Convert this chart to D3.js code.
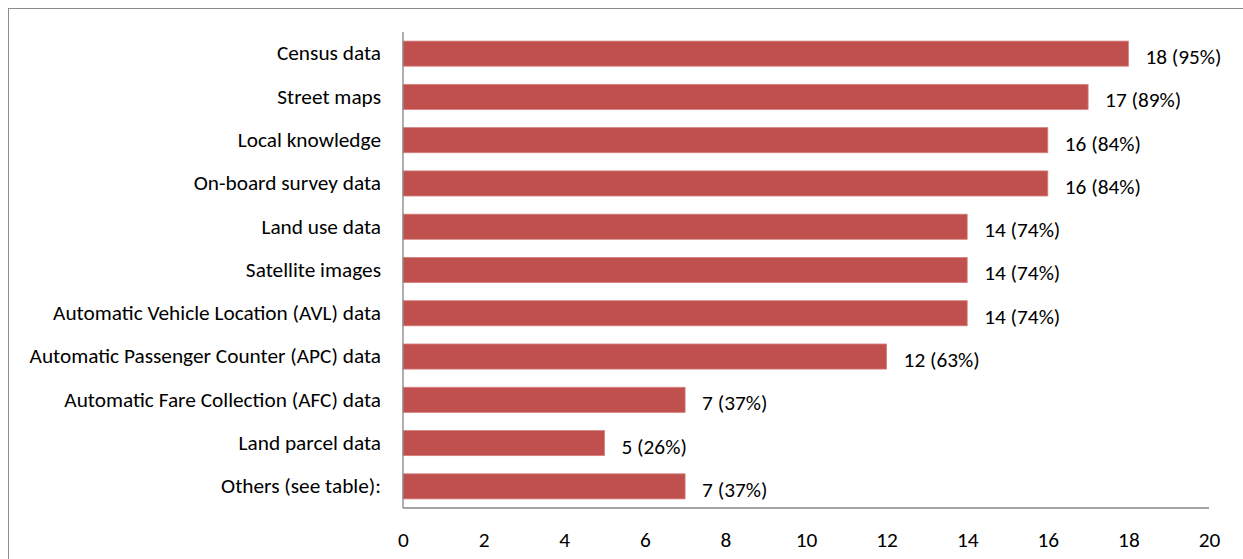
<!DOCTYPE html>
<html>
<head>
<meta charset="utf-8">
<script src="https://cdn.jsdelivr.net/npm/d3@7"></script>
<style>
  html, body { margin: 0; padding: 0; background: #fff; }
  svg { display: block; }
  text { font-family: Carlito, Calibri, Lato, "Open Sans", sans-serif; fill: #000; }
</style>
</head>
<body>
<svg id="chart" width="1243" height="559"></svg>
<script>
// Data sources used, count of agencies (share of respondents)
const categories = [
  "Census data",
  "Street maps",
  "Local knowledge",
  "On-board survey data",
  "Land use data",
  "Satellite images",
  "Automatic Vehicle Location (AVL) data",
  "Automatic Passenger Counter (APC) data",
  "Automatic Fare Collection (AFC) data",
  "Land parcel data",
  "Others (see table):"
];
const counts = [18, 17, 16, 16, 14, 14, 14, 12, 7, 5, 7];
const percents = [95, 89, 84, 84, 74, 74, 74, 63, 37, 26, 37];
const xTicks = [0, 2, 4, 6, 8, 10, 12, 14, 16, 18, 20];

const svg = d3.select("#chart");
const W = 1243, H = 559;
const plot = { left: 403, right: 1209, top: 32, bottom: 508 };
const fontFamily = "Carlito, Calibri, Lato, 'Open Sans', sans-serif";
const fontSize = 21.3;

// Outer chart frame (extends past the visible area on the right and bottom)
svg.append("rect")
  .attr("x", 8.5).attr("y", 8.5)
  .attr("width", W + 20).attr("height", H + 20)
  .attr("fill", "#fff")
  .attr("stroke", "#8c8c8c").attr("stroke-width", 1);

const x = d3.scaleLinear().domain([0, 20]).range([plot.left, plot.right]);
const y = d3.scaleBand().domain(categories).range([plot.top, plot.bottom]).paddingInner(0.42).paddingOuter(0.21);

// Bars
svg.append("g").selectAll("rect")
  .data(categories)
  .join("rect")
  .attr("x", x(0))
  .attr("y", d => y(d))
  .attr("width", (d, i) => x(counts[i]) - x(0))
  .attr("height", y.bandwidth())
  .attr("fill", "#C0504D")
  .attr("stroke", "#d4807e").attr("stroke-width", 0.8);

// Value labels
svg.append("g").selectAll("text")
  .data(categories)
  .join("text")
  .attr("x", (d, i) => x(counts[i]) + 17)
  .attr("y", d => y(d) + y.bandwidth() / 2 + 3)
  .attr("dy", "0.35em")
  .attr("font-size", fontSize)
  .text((d, i) => `${counts[i]} (${percents[i]}%)`);

// Category axis
const yAxis = d3.axisLeft(y).tickSize(0).tickPadding(22);
const gy = svg.append("g").attr("transform", `translate(${plot.left},0)`).call(yAxis);
gy.select(".domain").attr("stroke", "#868686").attr("stroke-width", 1.3)
  .attr("d", `M0,${plot.top}V${plot.bottom}`);
gy.selectAll("text").attr("font-size", fontSize).style("font-family", fontFamily);

// Value axis
const xAxis = d3.axisBottom(x).tickValues(xTicks).tickSize(0).tickPadding(24);
const gx = svg.append("g").attr("transform", `translate(0,${plot.bottom})`).call(xAxis);
gx.select(".domain").attr("stroke", "#868686").attr("stroke-width", 1.3)
  .attr("d", `M${plot.left},0H${plot.right}`);
gx.selectAll("text").attr("font-size", fontSize).style("font-family", fontFamily);
</script>
</body>
</html>
